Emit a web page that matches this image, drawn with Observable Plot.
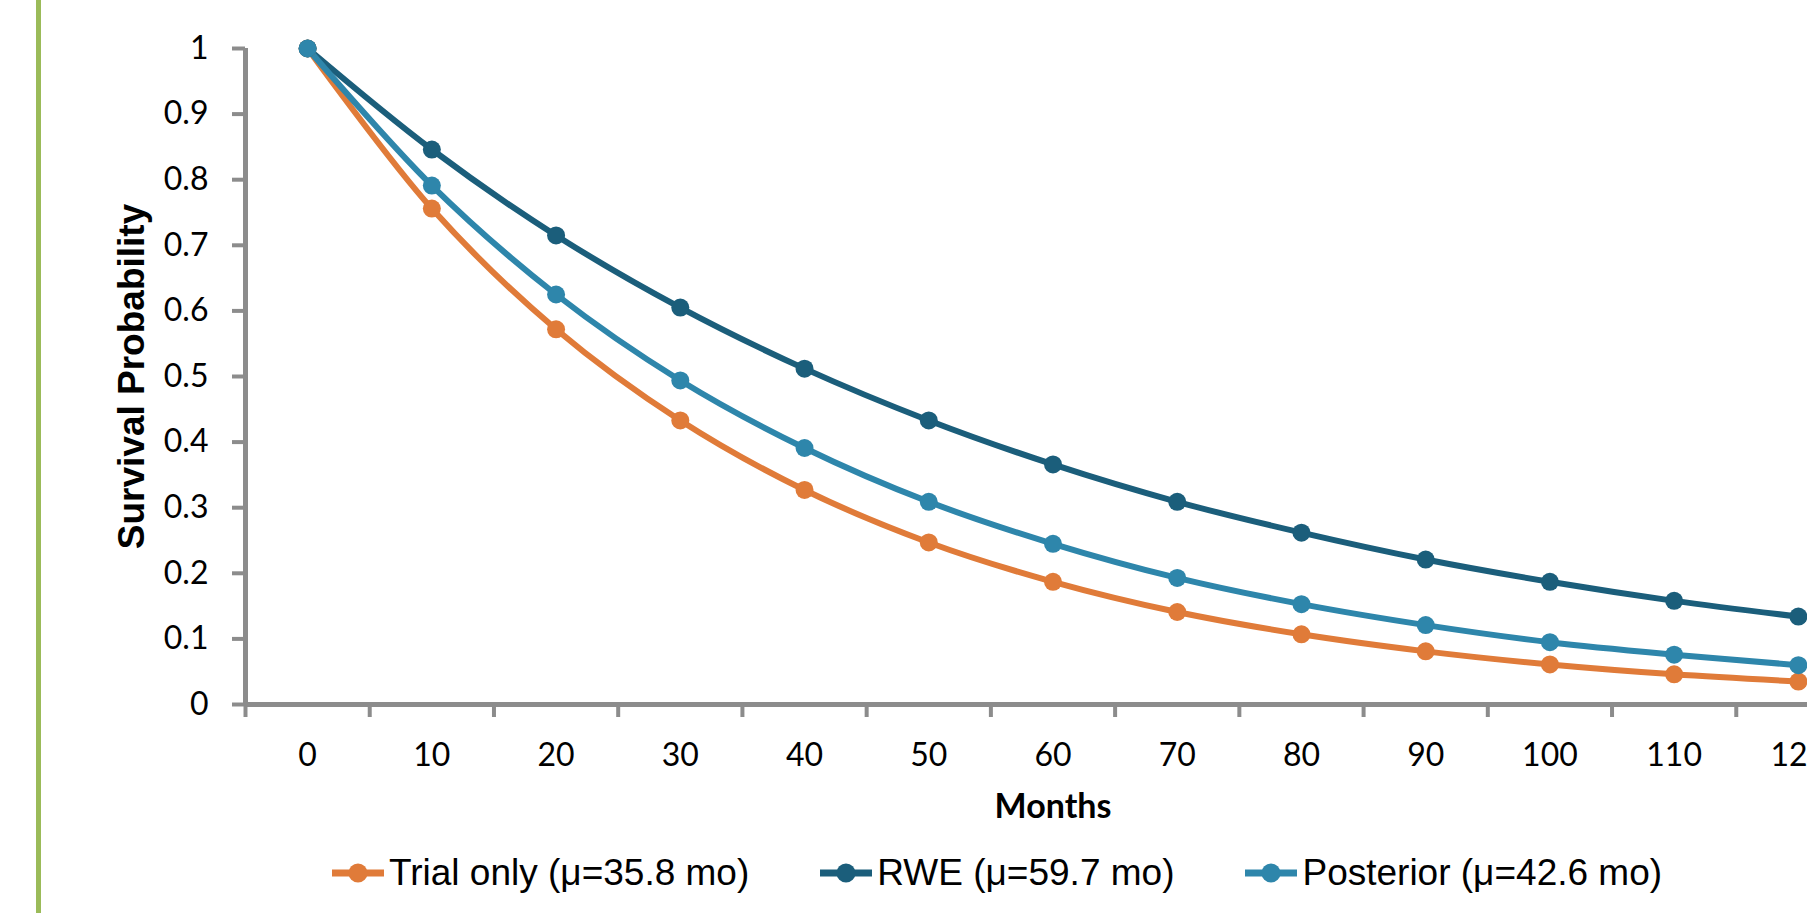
<!DOCTYPE html>
<html>
<head>
<meta charset="utf-8">
<script src="https://cdn.jsdelivr.net/npm/d3@7"></script>
<script src="https://cdn.jsdelivr.net/npm/@observablehq/plot@0.6"></script>
<style>
html, body { margin: 0; padding: 0; background: #fff; overflow: hidden; width: 1807px; height: 913px; }
#wrap { position: relative; width: 1807px; height: 913px; overflow: hidden; background: #fff; }
#bar { position: absolute; left: 36px; top: 0; width: 5px; height: 913px; background: #9BBB59; }
#chart { position: absolute; left: 0; top: 0; }
#chart svg { max-width: none; overflow: visible; }
#legend { position: absolute; left: 332px; top: 850px; height: 46px; display: flex; align-items: center;
  font-family: "Liberation Sans", Arial, sans-serif; font-size: 37px; color: #000; white-space: nowrap; }
.item { display: flex; align-items: center; margin-right: 71px; }
.item svg { display: block; margin-right: 5px; }
</style>
</head>
<body>
<div id="wrap">
  <div id="bar"></div>
  <div id="chart"></div>
  <div id="legend"></div>
</div>
<script>
// ---- data ----
const months = [0, 10, 20, 30, 40, 50, 60, 70, 80, 90, 100, 110, 120];
const trialOnly = [1, 0.756, 0.572, 0.433, 0.327, 0.247, 0.187, 0.141, 0.107, 0.081, 0.061, 0.046, 0.035];
const rwe       = [1, 0.846, 0.715, 0.605, 0.512, 0.433, 0.366, 0.309, 0.262, 0.221, 0.187, 0.158, 0.134];
const posterior = [1, 0.791, 0.625, 0.494, 0.391, 0.309, 0.245, 0.193, 0.153, 0.121, 0.095, 0.076, 0.060];
const seriesNames = ["Trial only (μ=35.8 mo)", "RWE (μ=59.7 mo)", "Posterior (μ=42.6 mo)"];
const seriesColors = ["#E07B39", "#1B5E7B", "#2E86AB"];
const yTicks = [0, 0.1, 0.2, 0.3, 0.4, 0.5, 0.6, 0.7, 0.8, 0.9, 1];
const xTitle = "Months";
const yTitle = "Survival Probability";

// ---- build table ----
const seriesValues = [trialOnly, rwe, posterior];
const rows = seriesNames.flatMap((name, s) =>
  months.map((m, i) => ({series: name, month: m, value: seriesValues[s][i]})));
const xBoundaries = months.map(m => m - 5).concat([months[months.length - 1] + 5]);

const gray = "#8C8C8C";

const chart = Plot.plot({
  width: 1870,
  height: 835,
  marginLeft: 245,
  marginRight: 10,
  marginTop: 48,
  marginBottom: 131,
  x: {domain: [xBoundaries[0], xBoundaries[xBoundaries.length - 1]]},
  y: {domain: [0, 1]},
  color: {domain: seriesNames, range: seriesColors},
  style: {fontFamily: "Lato, 'Open Sans', sans-serif", fontSize: "32px", color: "#000", background: "transparent"},
  marks: [
    Plot.axisY(yTicks, {tickSize: 13, tickPadding: 24, tickFormat: d => String(d),
      stroke: gray, strokeWidth: 4, fontSize: 32, fill: "#000", label: null}),
    Plot.axisX(xBoundaries, {tickSize: 13, stroke: gray, strokeWidth: 4, fill: "none", label: null}),
    Plot.axisX(months, {tickSize: 0, tickPadding: 39, fontSize: 32, fill: "#000",
      tickFormat: d => String(d), label: null}),
    Plot.ruleX([xBoundaries[0]], {y1: 0, y2: 1, stroke: gray, strokeWidth: 5}),
    Plot.ruleY([0], {x1: xBoundaries[0], x2: xBoundaries[xBoundaries.length - 1], stroke: gray, strokeWidth: 5}),
    Plot.line(rows, {x: "month", y: "value", z: "series", stroke: "series", strokeWidth: 6, curve: "catmull-rom"}),
    Plot.dot(rows, {x: "month", y: "value", fill: "series", r: 9}),
    Plot.text([xTitle], {frameAnchor: "bottom", dy: 103, textAnchor: "middle", lineAnchor: "middle",
      fontWeight: "bold", fontSize: 34, fill: "#000"}),
    Plot.text([yTitle], {frameAnchor: "left", dx: -113, rotate: -90, textAnchor: "middle", lineAnchor: "middle",
      fontFamily: "'Liberation Sans', Arial, sans-serif", fontWeight: "bold", fontSize: 37, fill: "#000"})
  ]
});
document.getElementById("chart").appendChild(chart);

// ---- legend ----
const legend = document.getElementById("legend");
seriesNames.forEach((name, i) => {
  const item = document.createElement("div");
  item.className = "item";
  const c = seriesColors[i];
  item.innerHTML = `<svg width="52" height="22"><line x1="0" y1="11" x2="52" y2="11" stroke="${c}" stroke-width="7"/><circle cx="26" cy="11" r="9.5" fill="${c}"/></svg>`;
  const span = document.createElement("span");
  span.textContent = name;
  item.appendChild(span);
  legend.appendChild(item);
});
</script>
</body>
</html>
